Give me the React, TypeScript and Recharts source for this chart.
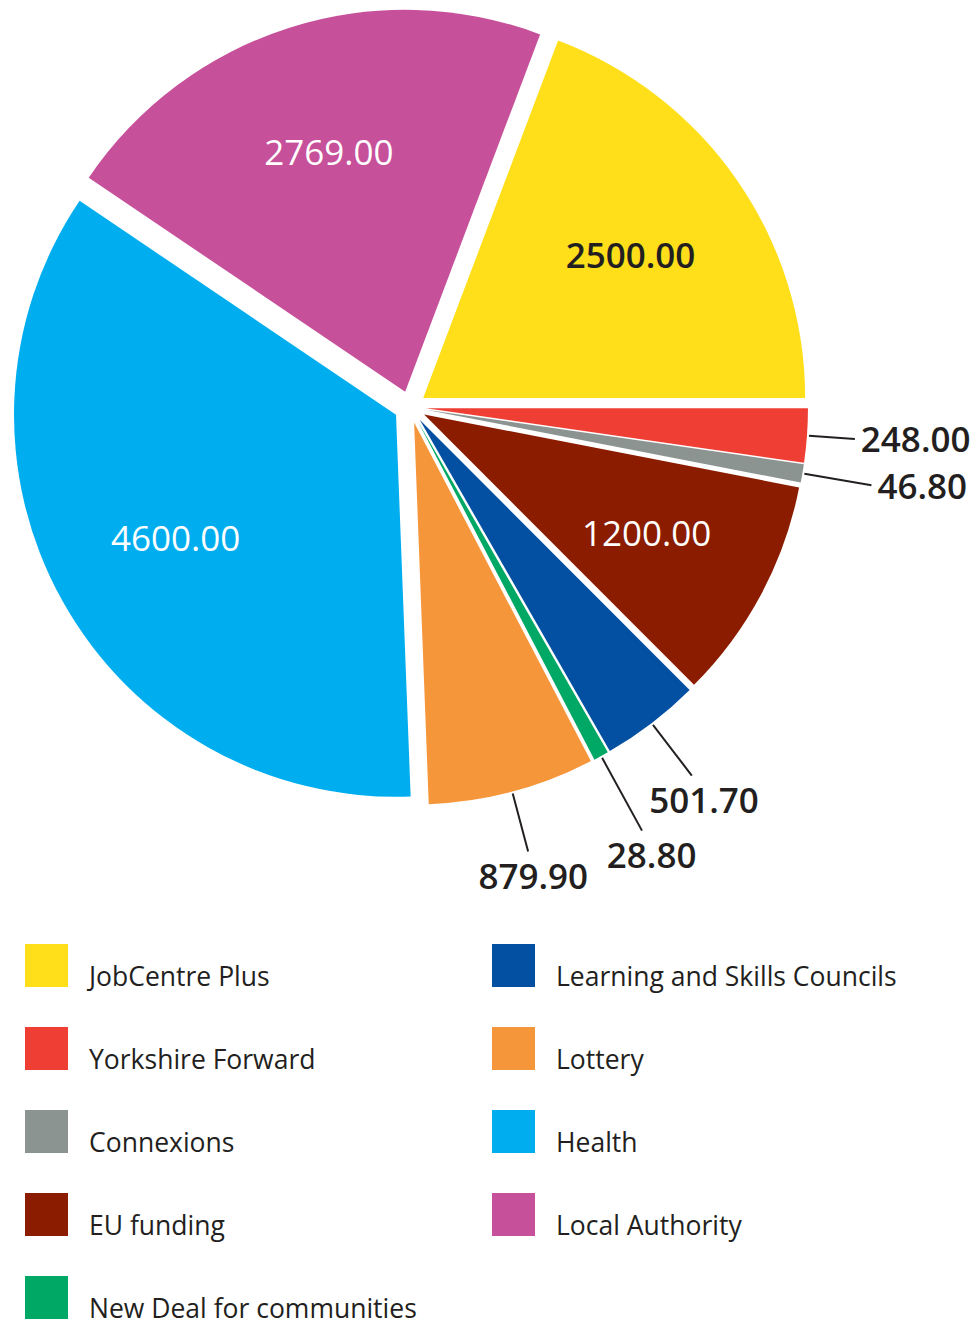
import { PieChart, Pie, Cell } from "recharts"

// pie order (counter-clockwise from 3 o'clock)
const categories = [
  "JobCentre Plus",
  "Local Authority",
  "Health",
  "Lottery",
  "New Deal for communities",
  "Learning and Skills Councils",
  "EU funding",
  "Connexions",
  "Yorkshire Forward",
]
const values = [2500, 2769, 4600, 879.9, 28.8, 501.7, 1200, 46.8, 248]
const valueLabels = ["2500.00", "2769.00", "4600.00", "879.90", "28.80", "501.70", "1200.00", "46.80", "248.00"]

const legendLeft = ["JobCentre Plus", "Yorkshire Forward", "Connexions", "EU funding", "New Deal for communities"]
const legendRight = ["Learning and Skills Councils", "Lottery", "Health", "Local Authority"]

const colors: Record<string, string> = {
  "JobCentre Plus": "#FEDF1A",
  "Local Authority": "#C7509A",
  "Health": "#00AEEF",
  "Lottery": "#F6963B",
  "New Deal for communities": "#00A865",
  "Learning and Skills Councils": "#0350A3",
  "EU funding": "#8B1C00",
  "Connexions": "#8C9491",
  "Yorkshire Forward": "#EF3E33",
}

// leader line length for the small slices
const leaderLen: Record<string, number> = {
  "Yorkshire Forward": 48,
  "Connexions": 70,
  "Learning and Skills Councils": 66,
  "New Deal for communities": 85,
  "Lottery": 62,
}

const data = categories.map((name, i) => ({ name, value: values[i], label: valueLabels[i] }))

const FONT = "'Open Sans', 'Noto Sans', sans-serif"
const DARK = "#231F20"
const CX = 405
const CY = 402
const R = 382
const EXPLODE = 16
const MIN_ANGLE = 1.5
const RAD = Math.PI / 180

// same split the Pie does, so each slice can be pushed out along its middle
const total = values.reduce((a, b) => a + b, 0)
const spread = 360 - values.length * MIN_ANGLE
let acc = 0
const mids = values.map((v) => {
  const a = MIN_ANGLE + (v / total) * spread
  const m = acc + a / 2
  acc += a
  return m
})

const renderLabel = (k: number) => (props: any) => {
  const { cx, cy, midAngle, outerRadius, percent, index } = props
  if (index !== k) return null
  const cos = Math.cos(-midAngle * RAD)
  const sin = Math.sin(-midAngle * RAD)
  const item = data[index]
  if (percent > 0.08) {
    const r = outerRadius * 0.66
    const dark = item.name === "JobCentre Plus"
    return (
      <text
        x={cx + r * cos}
        y={cy + r * sin}
        fill={dark ? DARK : "#fff"}
        fontSize={35}
        fontWeight={dark ? 600 : 500}
        fontFamily={FONT}
        textAnchor="middle"
        dominantBaseline="central"
      >
        {item.label}
      </text>
    )
  }
  const len = leaderLen[item.name] ?? 50
  const x1 = cx + (outerRadius + 2) * cos
  const y1 = cy + (outerRadius + 2) * sin
  const x2 = cx + (outerRadius + len) * cos
  const y2 = cy + (outerRadius + len) * sin
  const side = cos > 0.7
  return (
    <g>
      <line x1={x1} y1={y1} x2={x2} y2={y2} stroke={DARK} strokeWidth={2} />
      <text
        x={side ? x2 + 6 : x2 + 20 * cos}
        y={side ? y2 : y2 + 24}
        fill={DARK}
        fontSize={35}
        fontWeight={600}
        fontFamily={FONT}
        textAnchor={side ? "start" : "middle"}
        dominantBaseline="central"
      >
        {item.label}
      </text>
    </g>
  )
}

function LegendBlock() {
  const row = (name: string, i: number, sx: number, tx: number) => (
    <g key={name}>
      <rect x={sx} y={944 + i * 83} width={43} height={43} fill={colors[name]} />
      <text x={tx} y={986 + i * 83} fontSize={26.5} fontFamily={FONT} fill={DARK}>
        {name}
      </text>
    </g>
  )
  return (
    <svg width={979} height={1323} style={{ position: "absolute", left: 0, top: 0, pointerEvents: "none" }}>
      {legendLeft.map((n, i) => row(n, i, 25, 89))}
      {legendRight.map((n, i) => row(n, i, 492, 556))}
    </svg>
  )
}

export default function App() {
  return (
    <div style={{ position: "absolute", left: 0, top: 0, width: 979, height: 1323, background: "#fff" }}>
      <PieChart width={979} height={930}>
        {mids.map((m, k) => (
          <Pie
            key={k}
            data={data}
            dataKey="value"
            nameKey="name"
            cx={CX + EXPLODE * Math.cos(m * RAD)}
            cy={CY - EXPLODE * Math.sin(m * RAD)}
            outerRadius={R}
            startAngle={0}
            endAngle={360}
            minAngle={MIN_ANGLE}
            stroke="none"
            isAnimationActive={false}
            labelLine={false}
            label={renderLabel(k)}
          >
            {data.map((d, i) => (
              <Cell key={i} fill={i === k ? colors[d.name] : "none"} />
            ))}
          </Pie>
        ))}
      </PieChart>
      <LegendBlock />
    </div>
  )
}
